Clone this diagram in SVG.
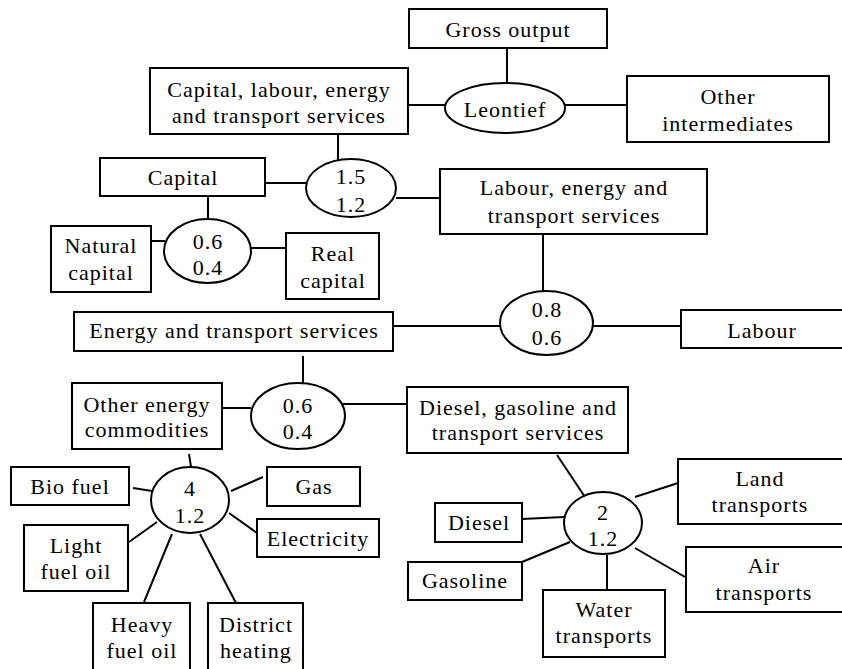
<svg xmlns="http://www.w3.org/2000/svg" width="842" height="669" viewBox="0 0 842 669">
<style>
rect, ellipse { fill: #fff; stroke: #000; stroke-width: 2; }
line { stroke: #000; stroke-width: 2; }
text { font-family: "Liberation Serif", "Times New Roman", serif; font-size: 22px; letter-spacing: 1px; text-anchor: middle; fill: #000; }
</style>
<rect x="0" y="0" width="842" height="669" style="fill:#fff;stroke:none"/>
<g id="connectors">
<line x1="507" y1="48" x2="507" y2="83"/>
<line x1="408" y1="105" x2="445" y2="105"/>
<line x1="564" y1="105" x2="627" y2="105"/>
<line x1="338" y1="134" x2="338" y2="160"/>
<line x1="265" y1="183" x2="307" y2="183"/>
<line x1="396" y1="198" x2="440" y2="198"/>
<line x1="208" y1="196" x2="208" y2="219"/>
<line x1="151" y1="241" x2="165" y2="241"/>
<line x1="251" y1="248" x2="286" y2="248"/>
<line x1="543" y1="234" x2="543" y2="291"/>
<line x1="393" y1="326" x2="500" y2="326"/>
<line x1="593" y1="326" x2="681" y2="326"/>
<line x1="303" y1="356" x2="303" y2="383"/>
<line x1="222" y1="408" x2="251" y2="408"/>
<line x1="340" y1="404" x2="407" y2="404"/>
<line x1="189" y1="454" x2="191" y2="467"/>
<line x1="133" y1="488" x2="152" y2="491"/>
<line x1="231" y1="491" x2="263" y2="477"/>
<line x1="229" y1="513" x2="257" y2="533"/>
<line x1="129" y1="542" x2="157" y2="522"/>
<line x1="144" y1="602" x2="172" y2="534"/>
<line x1="200" y1="534" x2="236" y2="603"/>
<line x1="557" y1="455" x2="585" y2="497"/>
<line x1="522" y1="519" x2="564" y2="517"/>
<line x1="522" y1="562" x2="570" y2="542"/>
<line x1="607" y1="555" x2="607" y2="589"/>
<line x1="635" y1="497" x2="678" y2="483"/>
<line x1="635" y1="548" x2="685" y2="577"/>
</g>
<g id="gross-output"><rect x="409" y="9" width="198" height="39"/><text x="508" y="37">Gross output</text></g>
<g id="cle-transport"><rect x="150" y="68" width="258" height="66"/><text x="279" y="97">Capital, labour, energy</text><text x="279" y="123">and transport services</text></g>
<g id="leontief"><ellipse cx="505" cy="108" rx="60" ry="25"/><text x="505" y="117">Leontief</text></g>
<g id="other-intermediates"><rect x="627" y="76" width="202" height="66"/><text x="728" y="104">Other</text><text x="728" y="131">intermediates</text></g>
<g id="capital"><rect x="100" y="158" width="165" height="38"/><text x="183" y="185">Capital</text></g>
<g id="nest-15-12"><ellipse cx="351" cy="188" rx="45" ry="29"/><text x="351" y="184">1.5</text><text x="351" y="212">1.2</text></g>
<g id="labour-energy-transport"><rect x="440" y="169" width="267" height="65"/><text x="574" y="195">Labour, energy and</text><text x="574" y="223">transport services</text></g>
<g id="natural-capital"><rect x="51" y="226" width="100" height="66"/><text x="101" y="253">Natural</text><text x="101" y="280">capital</text></g>
<g id="nest-06-04-capital"><ellipse cx="207.5" cy="251" rx="43.5" ry="32"/><text x="208" y="249">0.6</text><text x="208" y="275">0.4</text></g>
<g id="real-capital"><rect x="286" y="233" width="93" height="66"/><text x="333" y="261">Real</text><text x="333" y="288">capital</text></g>
<g id="energy-transport"><rect x="74" y="312" width="319" height="39"/><text x="234" y="338">Energy and transport services</text></g>
<g id="nest-08-06"><ellipse cx="546.5" cy="323" rx="46.5" ry="32"/><text x="547" y="317">0.8</text><text x="547" y="345">0.6</text></g>
<g id="labour"><rect x="681" y="310" width="162" height="38"/><text x="762" y="338">Labour</text></g>
<g id="other-energy"><rect x="72" y="383" width="150" height="66"/><text x="147" y="412">Other energy</text><text x="147" y="437">commodities</text></g>
<g id="nest-06-04-energy"><ellipse cx="298" cy="416" rx="47" ry="33"/><text x="298" y="413">0.6</text><text x="298" y="439">0.4</text></g>
<g id="diesel-gasoline-transport"><rect x="407" y="387" width="221" height="66"/><text x="518" y="415">Diesel, gasoline and</text><text x="518" y="440">transport services</text></g>
<g id="nest-4-12"><ellipse cx="190" cy="500" rx="39" ry="33"/><text x="190" y="496">4</text><text x="190" y="523">1.2</text></g>
<g id="bio-fuel"><rect x="11" y="467" width="118" height="38"/><text x="70" y="494">Bio fuel</text></g>
<g id="gas"><rect x="267" y="467" width="93" height="39"/><text x="314" y="494">Gas</text></g>
<g id="electricity"><rect x="257" y="519" width="122" height="38"/><text x="318" y="546">Electricity</text></g>
<g id="light-fuel-oil"><rect x="24" y="525" width="104" height="66"/><text x="76" y="553">Light</text><text x="76" y="579">fuel oil</text></g>
<g id="heavy-fuel-oil"><rect x="93" y="603" width="97" height="70"/><text x="142" y="632">Heavy</text><text x="142" y="658">fuel oil</text></g>
<g id="district-heating"><rect x="208" y="603" width="95" height="70"/><text x="256" y="632">District</text><text x="256" y="658">heating</text></g>
<g id="nest-2-12"><ellipse cx="603" cy="523" rx="39" ry="31"/><text x="603" y="520">2</text><text x="603" y="546">1.2</text></g>
<g id="diesel"><rect x="435" y="503" width="87" height="39"/><text x="479" y="530">Diesel</text></g>
<g id="gasoline"><rect x="408" y="562" width="114" height="38"/><text x="465" y="588">Gasoline</text></g>
<g id="water-transports"><rect x="543" y="590" width="122" height="67"/><text x="604" y="617">Water</text><text x="604" y="643">transports</text></g>
<g id="land-transports"><rect x="678" y="459" width="165" height="65"/><text x="760" y="486">Land</text><text x="760" y="512">transports</text></g>
<g id="air-transports"><rect x="686" y="547" width="157" height="65"/><text x="764" y="573">Air</text><text x="764" y="600">transports</text></g>
</svg>
